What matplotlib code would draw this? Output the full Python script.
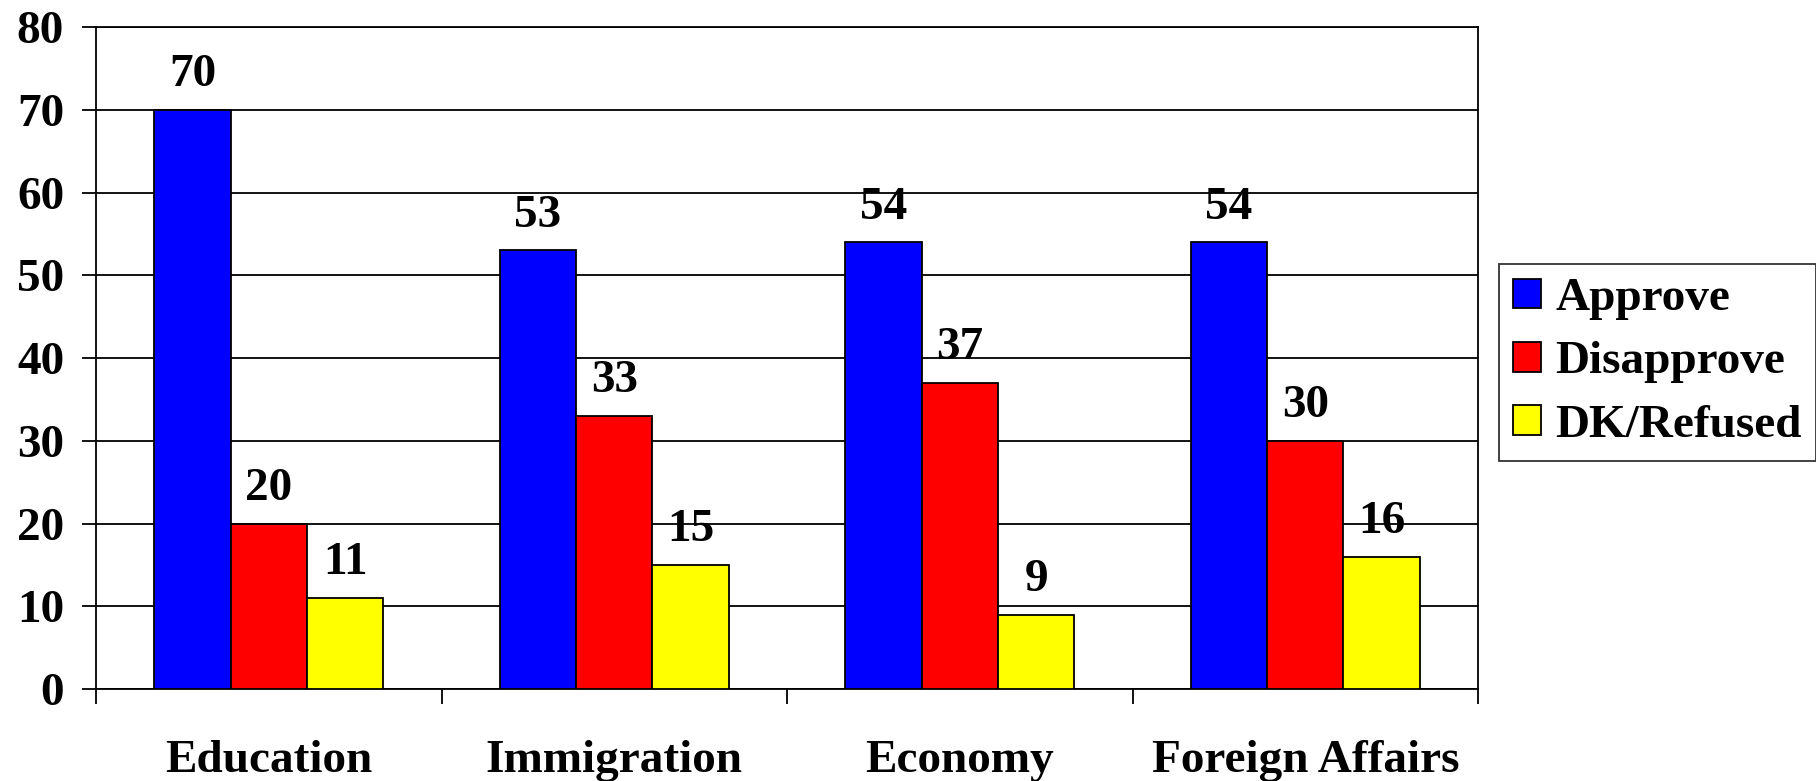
import numpy as np
import matplotlib.pyplot as plt
from matplotlib.ticker import MultipleLocator, FixedLocator

# 数据
categories = ['Education', 'Immigration', 'Economy', 'Foreign Affairs']
approve = [70, 53, 54, 54]
disapprove = [20, 33, 37, 30]
dk_refused = [11, 15, 9, 16]
series_names = ['Approve', 'Disapprove', 'DK/Refused']
colors = ['#0000FF', '#FF0000', '#FFFF00']

plt.rcParams['font.family'] = ['Liberation Serif', 'DejaVu Serif']
plt.rcParams['font.weight'] = 'bold'
FS = 34

fig = plt.figure(figsize=(18.16, 7.81), dpi=100)
ax = fig.add_axes([0.0529, 0.1178, 0.7610, 0.8476])

x = np.arange(len(categories))
width = 0.221
allSeries = [approve, disapprove, dk_refused]
for i, vals in enumerate(allSeries):
    pos = x + (i - 1) * width
    ax.bar(pos, vals, width, color=colors[i], edgecolor='black',
           linewidth=1.3, label=series_names[i], zorder=3)
    # 数值标签
    for xp, v in zip(pos, vals):
        ax.annotate(str(v), (xp, v), xytext=(0, 17), textcoords='offset points',
                    ha='center', va='baseline', fontsize=FS, fontweight='bold')

ax.set_xlim(-0.5, len(categories) - 0.5)
ax.set_ylim(0, 80)
ax.yaxis.set_major_locator(MultipleLocator(10))
ax.grid(axis='y', color='black', linewidth=1.3, zorder=0)
for sp in ax.spines.values():
    sp.set_linewidth(1.3)

ax.set_xticks(x)
ax.set_xticklabels(categories)
ax.xaxis.set_minor_locator(FixedLocator(np.arange(len(categories) + 1) - 0.5))
ax.tick_params(axis='x', which='major', length=0, pad=37, labelsize=FS)
ax.tick_params(axis='x', which='minor', length=11, width=1.3, direction='out')
ax.tick_params(axis='y', length=10, width=1.3, direction='out', pad=13, labelsize=FS)
for lbl in ax.get_xticklabels() + ax.get_yticklabels():
    lbl.set_fontweight('bold')

leg = fig.legend(loc='upper left', bbox_to_anchor=(0.8254, 0.662), borderaxespad=0,
                 fontsize=FS, frameon=True, fancybox=False, edgecolor='black',
                 handlelength=0.6, handleheight=0.6, handletextpad=0.3,
                 labelspacing=0.45, borderpad=0.3)
leg.get_frame().set_linewidth(1.3)
for t in leg.get_texts():
    t.set_fontweight('bold')

plt.savefig('out.png', dpi=100)
plt.close()
